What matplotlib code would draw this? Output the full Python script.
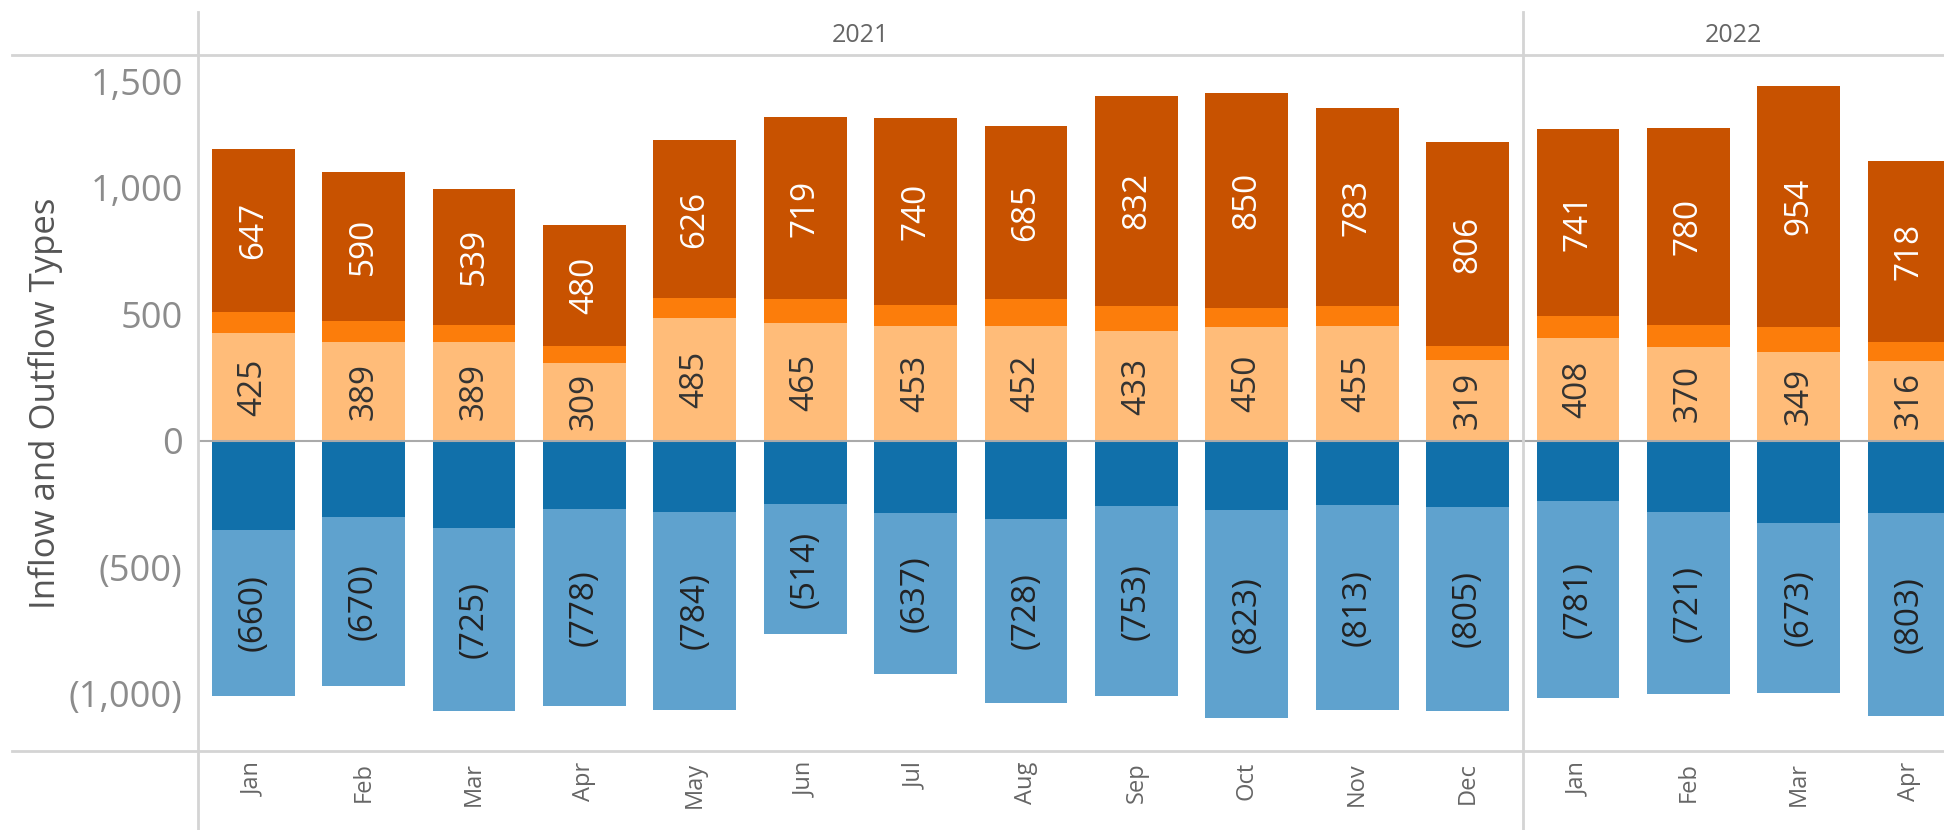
import matplotlib
matplotlib.use("Agg")
import matplotlib.pyplot as plt
from matplotlib.lines import Line2D
from matplotlib.transforms import ScaledTranslation

plt.rcParams['font.family'] = ['Open Sans', 'DejaVu Sans']

# data
months = ["Jan", "Feb", "Mar", "Apr", "May", "Jun", "Jul", "Aug", "Sep", "Oct", "Nov", "Dec",
          "Jan", "Feb", "Mar", "Apr"]
years = ["2021", "2022"]
year_sizes = [12, 4]

inflow_light = [425, 389, 389, 309, 485, 465, 453, 452, 433, 450, 455, 319, 408, 370, 349, 316]
inflow_mid = [84, 85, 69, 64, 78, 96, 85, 107, 100, 76, 78, 55, 84, 86, 100, 73]
inflow_dark = [647, 590, 539, 480, 626, 719, 740, 685, 832, 850, 783, 806, 741, 780, 954, 718]
outflow_dark = [352, 301, 345, 272, 282, 252, 287, 310, 259, 275, 254, 263, 237, 283, 325, 286]
outflow_light = [660, 670, 725, 778, 784, 514, 637, 728, 753, 823, 813, 805, 781, 721, 673, 803]

c_light_or = "#FFBC79"
c_mid_or = "#FC7D0B"
c_dark_or = "#C85200"
c_dark_bl = "#1170AA"
c_light_bl = "#5FA2CE"
grid_c = "#d4d4d4"

W, H = 1944, 830
fig = plt.figure(figsize=(W / 100, H / 100), dpi=100)

left, right, top, bottom = 198, W, 55, 751
ax = fig.add_axes([left / W, 1 - bottom / H, (right - left) / W, (bottom - top) / H])

x = list(range(len(months)))
bw = 0.75

base2 = [a + b for a, b in zip(inflow_light, inflow_mid)]
ax.bar(x, inflow_light, bw, color=c_light_or)
ax.bar(x, inflow_mid, bw, bottom=inflow_light, color=c_mid_or)
ax.bar(x, inflow_dark, bw, bottom=base2, color=c_dark_or)

neg_dark = [-v for v in outflow_dark]
neg_light = [-v for v in outflow_light]
ax.bar(x, neg_dark, bw, color=c_dark_bl)
ax.bar(x, neg_light, bw, bottom=neg_dark, color=c_light_bl)

lab_fs = 24
for i in x:
    ax.text(i, inflow_light[i] / 2, str(inflow_light[i]), rotation=90, ha='center', va='center',
            fontsize=lab_fs, color="#333333")
    ax.text(i, base2[i] + inflow_dark[i] / 2, str(inflow_dark[i]), rotation=90, ha='center',
            va='center', fontsize=lab_fs, color="white")
    ax.text(i, neg_dark[i] - outflow_light[i] / 2, "(%d)" % outflow_light[i], rotation=90,
            ha='center', va='center', fontsize=lab_fs, color="#222222")

ax.axhline(0, color="#aaaaaa", lw=1.5, zorder=3)

ax.set_xlim(-0.5, (right - left) / 110.4 - 0.5)
ax.set_ylim(-1228, 1526)

ticks = [-1000, -500, 0, 500, 1000, 1500]
tick_labels = ["(1,000)", "(500)", "0", "500", "1,000", "1,500"]
ax.set_yticks(ticks)
ax.set_yticklabels(tick_labels, fontsize=26, color="#8c8c8c")
ax.tick_params(axis='y', length=0, pad=11)
ax.set_xticks([])
for s in ax.spines.values():
    s.set_visible(False)

# top tick label is pushed down to stay inside the pane
top_lab = ax.yaxis.get_major_ticks()[-1].label1
top_lab.set_transform(top_lab.get_transform() + ScaledTranslation(0, -0.2, fig.dpi_scale_trans))

# month labels under each bar
for i, m in enumerate(months):
    xf = (left + 110.4 * (i + 0.5)) / W
    fig.text(xf, 1 - 762 / H, m, rotation=90, ha='center', va='top', fontsize=17, color="#666666")

# year headers and pane dividers
start = 0
for yr, n in zip(years, year_sizes):
    x0 = left + 110.4 * start
    x1 = min(left + 110.4 * (start + n), W)
    fig.text((x0 + x1) / 2 / W, 1 - 35 / H, yr, ha='center', va='center', fontsize=18, color="#666666")
    if start > 0:
        fig.add_artist(Line2D([x0 / W, x0 / W], [0, 1 - 12 / H], color=grid_c, lw=2))
    start += n

fig.add_artist(Line2D([left / W, left / W], [0, 1 - 12 / H], color=grid_c, lw=2))
fig.add_artist(Line2D([12 / W, 1], [1 - top / H, 1 - top / H], color=grid_c, lw=2))
fig.add_artist(Line2D([12 / W, 1], [1 - bottom / H, 1 - bottom / H], color=grid_c, lw=2))

fig.text(46 / W, 1 - 403 / H, "Inflow and Outflow Types", rotation=90, ha='center', va='center',
         fontsize=25, color="#555555")

fig.savefig("out.png", dpi=100)
